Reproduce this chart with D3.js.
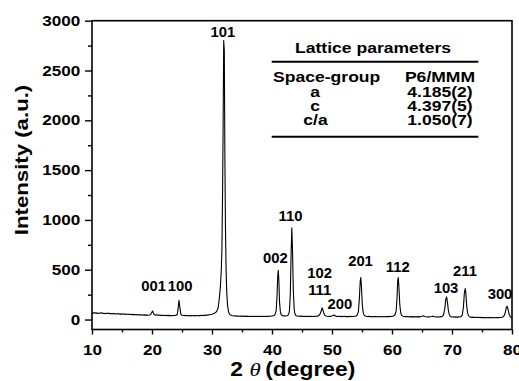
<!DOCTYPE html>
<html>
<head>
<meta charset="utf-8">
<script src="https://cdn.jsdelivr.net/npm/d3@7"></script>
<style>
  html, body { margin: 0; padding: 0; background: #fff; }
  svg { display: block; }
  text { font-family: "Liberation Sans", Arial, sans-serif; font-weight: bold; fill: #000; }
</style>
</head>
<body>
<svg id="chart" width="519" height="381"></svg>
<script>
// XRD pattern: [2θ (degree), intensity (a.u.)]
const pattern = [
  [10.0,68],[10.2,62],[10.4,70],[10.6,64],[10.8,67],[11.0,60],[11.2,66],[11.4,63],[11.6,69],[11.8,61],
  [12.0,64],[12.2,58],[12.4,63],[12.6,60],[12.8,65],[13.0,57],[13.2,61],[13.4,58],[13.6,62],[13.8,55],
  [14.0,59],[14.2,56],[14.4,60],[14.6,53],[14.8,57],[15.0,54],[15.2,58],[15.4,52],[15.6,55],[15.8,51],
  [16.0,55],[16.2,50],[16.4,53],[16.6,49],[16.8,52],[17.0,48],[17.2,51],[17.4,47],[17.6,50],[17.8,46],
  [18.0,49],[18.2,45],[18.4,48],[18.6,44],[18.8,47],[19.0,44],[19.2,46],[19.4,43],[19.6,46],[19.8,52],
  [19.95,70],[20.1,86],[20.25,62],[20.4,48],
  [20.6,44],[20.8,47],[21.0,42],[21.2,45],[21.4,41],[21.6,44],[21.8,40],[22.0,43],[22.2,40],[22.4,42],
  [22.6,39],[22.8,42],[23.0,39],[23.2,41],[23.4,38],[23.6,41],[23.8,40],[24.0,42],[24.2,50],
  [24.35,110],[24.5,193],[24.65,120],[24.8,55],
  [25.0,43],[25.2,40],[25.4,42],[25.6,38],[25.8,41],[26.0,38],[26.2,40],[26.4,37],[26.6,40],[26.8,38],
  [27.0,40],[27.2,37],[27.4,40],[27.6,38],[27.8,41],[28.0,39],[28.2,42],[28.4,40],[28.6,43],[28.8,42],
  [29.0,45],[29.2,44],[29.4,47],[29.6,48],[29.8,51],[30.0,54],[30.2,58],[30.4,64],[30.6,70],[30.8,85],
  [31.0,110],[31.2,200],[31.4,330],[31.55,500],[31.65,700],[31.75,1200],[31.85,1900],[31.95,2800],
  [32.05,2700],[32.15,1600],[32.25,900],[32.35,500],[32.45,280],[32.6,140],[32.75,80],[32.9,55],
  [33.1,45],[33.3,40],[33.5,38],[33.7,35],[33.9,37],[34.1,34],[34.3,36],[34.5,33],[34.7,35],[34.9,32],
  [35.1,35],[35.3,32],[35.5,34],[35.7,31],[35.9,34],[36.1,31],[36.3,33],[36.5,30],[36.7,33],[36.9,31],
  [37.1,33],[37.3,30],[37.5,32],[37.7,30],[37.9,33],[38.1,31],[38.3,33],[38.5,30],[38.7,33],[38.9,31],
  [39.1,33],[39.3,31],[39.5,34],[39.7,33],[39.9,35],[40.1,36],[40.3,40],[40.5,50],[40.7,90],
  [40.85,250],[40.95,430],[41.05,495],[41.15,380],[41.25,180],[41.4,75],[41.55,48],[41.7,40],
  [41.9,36],[42.1,37],[42.3,35],[42.5,38],[42.7,45],[42.9,80],
  [43.05,250],[43.18,650],[43.3,920],[43.42,700],[43.55,300],[43.7,100],[43.85,52],
  [44.0,40],[44.2,36],[44.4,33],[44.6,35],[44.8,32],[45.0,34],[45.2,31],[45.4,33],[45.6,30],[45.8,33],
  [46.0,30],[46.2,32],[46.4,30],[46.6,33],[46.8,30],[47.0,32],[47.2,30],[47.4,33],[47.6,34],[47.8,40],
  [48.0,55],[48.2,85],[48.35,117],[48.5,95],[48.65,60],[48.8,42],
  [49.0,36],[49.2,33],[49.4,31],[49.6,33],[49.8,32],[50.0,36],[50.15,42],[50.3,45],[50.45,40],[50.6,34],
  [50.8,31],[51.0,33],[51.2,30],[51.4,32],[51.6,29],[51.8,32],[52.0,30],[52.2,32],[52.4,29],[52.6,31],
  [52.8,29],[53.0,32],[53.2,30],[53.4,31],[53.6,30],[53.8,33],[54.0,36],[54.2,45],[54.4,80],
  [54.55,200],[54.7,380],[54.8,422],[54.9,340],[55.05,150],[55.2,70],[55.35,45],
  [55.5,36],[55.7,32],[55.9,30],[56.1,32],[56.3,29],[56.5,31],[56.7,28],[56.9,31],[57.1,29],[57.3,31],
  [57.5,28],[57.7,30],[57.9,28],[58.1,31],[58.3,28],[58.5,30],[58.7,28],[58.9,31],[59.1,29],[59.3,31],
  [59.5,29],[59.7,32],[59.9,31],[60.1,33],[60.3,37],[60.5,48],[60.7,90],
  [60.85,230],[60.95,390],[61.05,422],[61.15,330],[61.3,150],[61.45,70],[61.6,42],
  [61.8,34],[62.0,30],[62.2,29],[62.4,31],[62.6,28],[62.8,30],[63.0,27],[63.2,29],[63.4,27],[63.6,29],
  [63.8,26],[64.0,29],[64.2,27],[64.4,29],[64.6,27],[64.8,30],[65.0,33],[65.2,38],[65.4,32],[65.6,28],
  [65.8,26],[66.0,28],[66.2,26],[66.4,28],[66.6,30],[66.8,34],[67.0,30],[67.2,27],[67.4,25],[67.6,27],
  [67.8,25],[68.0,27],[68.2,29],[68.4,34],[68.6,50],[68.8,110],[68.95,200],[69.1,227],[69.25,170],
  [69.4,90],[69.55,48],[69.7,33],[69.9,27],[70.1,25],[70.3,27],[70.5,24],[70.7,26],[70.9,24],[71.1,27],
  [71.3,26],[71.5,30],[71.7,45],[71.9,120],[72.05,260],[72.2,311],[72.3,270],[72.45,140],[72.6,65],
  [72.75,38],[72.9,28],[73.1,24],[73.3,22],[73.5,24],[73.7,21],[73.9,23],[74.1,20],[74.3,22],[74.5,20],
  [74.7,22],[74.9,19],[75.1,21],[75.3,19],[75.5,21],[75.7,18],[75.9,21],[76.1,19],[76.3,21],[76.5,18],
  [76.7,20],[76.9,18],[77.1,20],[77.3,18],[77.5,21],[77.7,19],[77.9,21],[78.1,20],[78.3,23],[78.5,28],
  [78.7,40],[78.9,75],[79.05,120],[79.2,134],[79.35,100],[79.5,60],[79.65,35],[79.8,22],[79.95,15]
];

// Miller indices and where each label sits (2θ, intensity of its baseline)
const peakLabels = ["001","100","101","002","110","102","111","200","201","112","103","211","300"];
const labelAngle = [20.28, 24.67, 31.8, 40.55, 43.08, 47.92, 47.95, 51.33, 54.75, 60.95, 69.0, 72.17, 78.0];
const labelCounts = [286, 286, 2835, 565, 992, 420, 246, 103, 537, 480, 270, 437, 203];

// Axis ticks
const xMajor = [10, 20, 30, 40, 50, 60, 70, 80];
const xMinor = [15, 25, 35, 45, 55, 65, 75];
const yMajor = [0, 500, 1000, 1500, 2000, 2500, 3000];
const yMinor = [250, 750, 1250, 1750, 2250, 2750];

// Lattice parameter table
const tableTitle = "Lattice parameters";
const tableNames = ["Space-group", "a", "c", "c/a"];
const tableValues = ["P6/MMM", "4.185(2)", "4.397(5)", "1.050(7)"];

const STRETCH = 1.17;   // wide-set lettering
const svg = d3.select("#chart");

const x = d3.scaleLinear().domain([10, 80]).range([92, 512]);
const y = d3.scaleLinear().domain([-100, 3000]).range([329.5, 20.7]);

// axes (outward ticks on left and bottom)
const gx = svg.append("g").attr("transform", `translate(0,${y.range()[0]})`);
gx.call(d3.axisBottom(x).tickValues(xMajor).tickSize(5).tickPadding(10).tickFormat(d3.format("d")));
const gxm = svg.append("g").attr("transform", `translate(0,${y.range()[0]})`);
gxm.call(d3.axisBottom(x).tickValues(xMinor).tickSize(3).tickFormat(""));

const gy = svg.append("g").attr("transform", `translate(${x.range()[0]},0)`);
gy.call(d3.axisLeft(y).tickValues(yMajor).tickSize(7).tickPadding(3).tickFormat(d3.format("d")));
const gym = svg.append("g").attr("transform", `translate(${x.range()[0]},0)`);
gym.call(d3.axisLeft(y).tickValues(yMinor).tickSize(4).tickFormat(""));

[gx, gxm, gy, gym].forEach(g => {
  g.select(".domain").remove();
  g.selectAll(".tick line").attr("stroke", "#000").attr("stroke-width", 1.4);
  g.selectAll(".tick text")
    .attr("font-size", "14.5px")
    .attr("font-family", "'Liberation Sans', Arial, sans-serif")
    .attr("font-weight", "bold")
    .attr("fill", "#000")
    .attr("transform", "scale(1.18,1)");
});

// diffraction trace
const line = d3.line().x(d => x(d[0])).y(d => y(d[1]));
svg.append("path")
  .datum(pattern)
  .attr("d", line)
  .attr("fill", "none")
  .attr("stroke", "#000")
  .attr("stroke-width", 1.1)
  .attr("stroke-linejoin", "round");

// frame
svg.append("rect")
  .attr("x", x.range()[0]).attr("y", y.range()[1])
  .attr("width", x.range()[1] - x.range()[0])
  .attr("height", y.range()[0] - y.range()[1])
  .attr("fill", "none").attr("stroke", "#000").attr("stroke-width", 1.6);

// peak indices
svg.append("g").selectAll("text")
  .data(peakLabels)
  .join("text")
  .attr("transform", (d, i) => `translate(${x(labelAngle[i])},${y(labelCounts[i])}) scale(1.06,1)`)
  .attr("text-anchor", "middle")
  .attr("font-size", "14px")
  .text(d => d);

// lattice parameter table
const tbl = svg.append("g");
tbl.append("text")
  .attr("transform", `translate(373,53.3) scale(${STRETCH},1)`)
  .attr("text-anchor", "middle").attr("font-size", "15px")
  .text(tableTitle);
[61.7, 136.7].forEach(ry => {
  tbl.append("line").attr("x1", 271.7).attr("x2", 478.3).attr("y1", ry).attr("y2", ry)
    .attr("stroke", "#000").attr("stroke-width", 2);
});
const rowY = [82.4, 96.7, 110.9, 125.1];
const nameX = [326.7, 315, 315, 315.5];
tbl.selectAll("text.name")
  .data(tableNames)
  .join("text").attr("class", "name")
  .attr("transform", (d, i) => `translate(${nameX[i]},${rowY[i]}) scale(${STRETCH},1)`)
  .attr("text-anchor", "middle").attr("font-size", "15px")
  .text(d => d);
tbl.selectAll("text.value")
  .data(tableValues)
  .join("text").attr("class", "value")
  .attr("transform", (d, i) => `translate(440,${rowY[i]}) scale(${STRETCH},1)`)
  .attr("text-anchor", "middle").attr("font-size", "15px")
  .text(d => d);

// axis titles
svg.append("text")
  .attr("transform", `translate(28.3,160) rotate(-90) scale(${STRETCH},1)`)
  .attr("text-anchor", "middle").attr("font-size", "19px")
  .text("Intensity (a.u.)");

const xt = svg.append("text")
  .attr("transform", `translate(292.8,376) scale(${STRETCH},1)`)
  .attr("text-anchor", "middle").attr("font-size", "19.5px");
xt.append("tspan").text("2 ");
xt.append("tspan")
  .attr("font-family", "'Liberation Serif', 'Times New Roman', serif")
  .attr("font-style", "italic").attr("font-weight", "normal")
  .text("θ");
xt.append("tspan").attr("dx", 4).text("(degree)");
</script>
</body>
</html>
